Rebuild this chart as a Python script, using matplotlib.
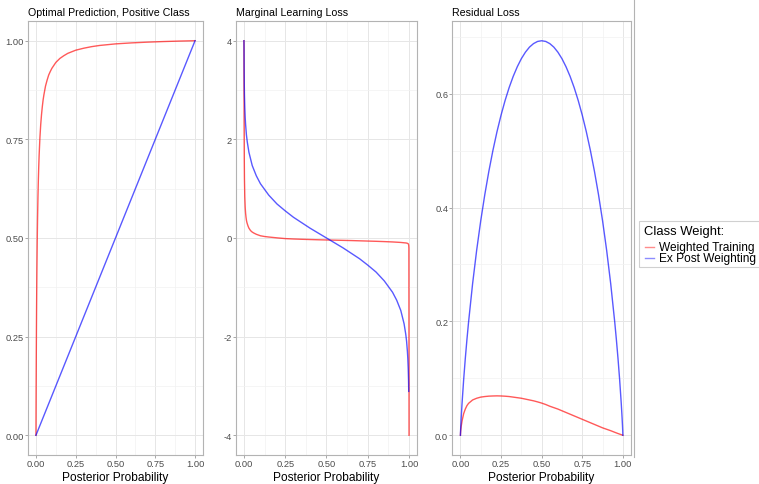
import numpy as np
import matplotlib.pyplot as plt
from matplotlib.lines import Line2D
from matplotlib.patches import Rectangle
from matplotlib.ticker import MultipleLocator

plt.rcParams['font.family'] = ['Liberation Sans', 'DejaVu Sans']

# --- panel 1 : optimal prediction, positive class ---
p_pred = [0, 0.001, 0.002, 0.003, 0.004, 0.005, 0.006, 0.008, 0.01, 0.0125, 0.015, 0.0175,
          0.02, 0.025, 0.03, 0.035, 0.04, 0.045, 0.05, 0.06, 0.07, 0.08, 0.09, 0.1, 0.125,
          0.15, 0.175, 0.2, 0.25, 0.3, 0.35, 0.4, 0.5, 0.6, 0.7, 0.8, 0.9, 1.0]
pred_weighted = [0, 0.107, 0.194, 0.265, 0.325, 0.376, 0.420, 0.492, 0.548, 0.603, 0.646,
                 0.681, 0.710, 0.755, 0.788, 0.813, 0.833, 0.850, 0.863, 0.885, 0.900,
                 0.913, 0.922, 0.930, 0.945, 0.955, 0.962, 0.968, 0.976, 0.981, 0.985,
                 0.988, 0.992, 0.9945, 0.9964, 0.9979, 0.9991, 1.0]
p_pred_expost = [0.0, 1.0]
pred_expost = [0.0, 1.0]

# --- panel 2 : marginal learning loss ---
p_marg = [0, 0.0005, 0.001, 0.002, 0.003, 0.005, 0.0075, 0.01, 0.0125, 0.015, 0.0175, 0.02,
          0.025, 0.03, 0.04, 0.05, 0.06, 0.075, 0.1, 0.125, 0.15, 0.2, 0.25, 0.3, 0.35, 0.4,
          0.45, 0.5, 0.55, 0.6, 0.65, 0.7, 0.75, 0.8, 0.85, 0.9, 0.925, 0.95, 0.97, 0.98,
          0.985, 0.99, 0.9925, 0.995, 0.997, 0.998, 0.999, 1.0]
marg_weighted = [4.0, 3.0, 2.3, 1.6, 1.2, 0.84, 0.62, 0.50, 0.42, 0.36, 0.32, 0.29,
                 0.24, 0.20, 0.15, 0.12, 0.10, 0.075, 0.045, 0.03, 0.02, 0.003, -0.012,
                 -0.02, -0.026, -0.031, -0.036, -0.04, -0.044, -0.048, -0.052, -0.057,
                 -0.062, -0.067, -0.073, -0.08, -0.085, -0.09, -0.097, -0.10, -0.103,
                 -0.108, -0.112, -0.118, -0.13, -0.15, -0.2, -4.0]
p_marg_expost = [0, 0.0005, 0.001, 0.002, 0.003, 0.005, 0.0075, 0.01, 0.015, 0.02, 0.03,
                 0.05, 0.075, 0.1, 0.15, 0.2, 0.25, 0.3, 0.35, 0.4, 0.45, 0.5, 0.55, 0.6,
                 0.65, 0.7, 0.75, 0.8, 0.85, 0.9, 0.925, 0.95, 0.97, 0.98, 0.985, 0.99,
                 0.9925, 0.995, 0.997, 0.998]
marg_expost = [4.0, 3.80, 3.45, 3.11, 2.90, 2.65, 2.44, 2.30, 2.09, 1.95, 1.74, 1.47, 1.26,
               1.10, 0.87, 0.69, 0.55, 0.42, 0.31, 0.20, 0.10, 0.0, -0.10, -0.20, -0.31,
               -0.42, -0.55, -0.69, -0.87, -1.10, -1.26, -1.47, -1.74, -1.95, -2.09,
               -2.30, -2.44, -2.65, -2.90, -3.11]

# --- panel 3 : residual loss ---
p_res = [0, 0.001, 0.0025, 0.005, 0.01, 0.02, 0.03, 0.04, 0.05, 0.075, 0.1, 0.125, 0.15,
         0.175, 0.2, 0.225, 0.25, 0.275, 0.3, 0.325, 0.35, 0.375, 0.4, 0.425, 0.45, 0.475,
         0.5,
         0.525, 0.55, 0.575, 0.6, 0.625, 0.65, 0.675, 0.7, 0.725, 0.75, 0.775, 0.8, 0.825,
         0.85, 0.875, 0.9, 0.925, 0.95, 0.96, 0.97, 0.98, 0.99, 0.995, 0.9975, 0.999, 1.0]
res_weighted = [0, 0.005, 0.010, 0.016, 0.025, 0.038, 0.046, 0.052, 0.056, 0.062, 0.065,
                0.067, 0.068, 0.0687, 0.069, 0.0692, 0.069, 0.0686, 0.068, 0.067, 0.066,
                0.065, 0.0635, 0.062, 0.0605, 0.0586,
                0.0565,
                0.054, 0.051, 0.0485, 0.046, 0.043, 0.040, 0.037, 0.034, 0.031, 0.028,
                0.025, 0.022, 0.019, 0.016, 0.013, 0.0105, 0.008, 0.0052, 0.0041, 0.003,
                0.002, 0.001, 0.0005, 0.00025, 0.0001, 0]
res_expost = [0, 0.0079, 0.0175, 0.0315, 0.056, 0.098, 0.1348, 0.168, 0.1985, 0.2664,
              0.3251, 0.3768, 0.4227, 0.4637, 0.5004, 0.5332, 0.5623, 0.5882, 0.6109,
              0.6306, 0.6474, 0.6616, 0.6730, 0.6819, 0.6881, 0.6919,
              0.6931,
              0.6919, 0.6881, 0.6819, 0.6730, 0.6616, 0.6474, 0.6306, 0.6109, 0.5882,
              0.5623, 0.5332, 0.5004, 0.4637, 0.4227, 0.3768, 0.3251, 0.2664, 0.1985,
              0.168, 0.1348, 0.098, 0.056, 0.0315, 0.0175, 0.0079, 0]

x_ticks = [0, 0.25, 0.5, 0.75, 1.0]
x_labels = ["0.00", "0.25", "0.50", "0.75", "1.00"]
legend_title = "Class Weight:"
series_names = ["Weighted Training", "Ex Post Weighting"]

RED, BLUE, ALPHA, LW = 'red', 'blue', 0.65, 1.0
W, H = 759, 485

fig = plt.figure(figsize=(W / 100, H / 100), dpi=100)


def make_axes(x0, x1, y0, y1):
    return fig.add_axes([x0 / W, 1 - y1 / H, (x1 - x0) / W, (y1 - y0) / H])


def style(ax, title, ylim, yticks, ylabels, yminor):
    ax.set_xlim(-0.05, 1.05)
    ax.set_ylim(*ylim)
    ax.set_xticks(x_ticks)
    ax.set_xticklabels(x_labels)
    ax.set_yticks(yticks)
    ax.set_yticklabels(ylabels)
    ax.xaxis.set_minor_locator(MultipleLocator(0.125))
    ax.yaxis.set_minor_locator(MultipleLocator(yminor))
    ax.grid(which='major', color='#E6E6E6', lw=0.7)
    ax.grid(which='minor', color='#F2F2F2', lw=0.5)
    ax.set_axisbelow(True)
    for s in ax.spines.values():
        s.set_color('#B3B3B3')
        s.set_linewidth(0.8)
    ax.tick_params(which='major', length=2.2, width=0.6, color='#999999',
                   labelsize=6.7, labelcolor='#4D4D4D', pad=0.8)
    ax.tick_params(which='minor', length=0)
    ax.set_title(title, loc='left', fontsize=7.7, pad=4)
    ax.set_xlabel("Posterior Probability", fontsize=8.6, labelpad=2.2)


ax1 = make_axes(28, 203, 22, 456)
ax1.plot(p_pred, pred_weighted, color=RED, alpha=ALPHA, lw=LW)
ax1.plot(p_pred_expost, pred_expost, color=BLUE, alpha=ALPHA, lw=LW)
style(ax1, "Optimal Prediction, Positive Class", (-0.05, 1.05),
      [0, 0.25, 0.5, 0.75, 1.0], ["0.00", "0.25", "0.50", "0.75", "1.00"], 0.125)

ax2 = make_axes(235.7, 417.3, 22, 456)
ax2.plot(p_marg, marg_weighted, color=RED, alpha=ALPHA, lw=LW)
ax2.plot(p_marg_expost, marg_expost, color=BLUE, alpha=ALPHA, lw=LW)
style(ax2, "Marginal Learning Loss", (-4.4, 4.4),
      [-4, -2, 0, 2, 4], ["-4", "-2", "0", "2", "4"], 1)

ax3 = make_axes(452.3, 631, 22, 456)
ax3.plot(p_res, res_weighted, color=RED, alpha=ALPHA, lw=LW)
ax3.plot(p_res, res_expost, color=BLUE, alpha=ALPHA, lw=LW)
style(ax3, "Residual Loss", (-0.0347, 0.7278),
      [0, 0.2, 0.4, 0.6], ["0.0", "0.2", "0.4", "0.6"], 0.1)

# separator line and legend
fig.add_artist(Line2D([634 / W, 634 / W], [1 - 458 / H, 1], transform=fig.transFigure,
                      color='#B3B3B3', lw=0.8))
fig.add_artist(Rectangle((639 / W, 1 - 268.3 / H), (762 - 639) / W, 46.6 / H,
                         transform=fig.transFigure, facecolor='white',
                         edgecolor='#D0D0D0', lw=0.8))
fig.text(643.5 / W, 1 - 232.3 / H, legend_title, fontsize=9.4, va='center', ha='left')
for name, col, y in zip(series_names, [RED, BLUE], [247.7, 259.3]):
    fig.add_artist(Line2D([645 / W, 654 / W], [1 - y / H] * 2, transform=fig.transFigure,
                          color=col, alpha=0.45, lw=LW))
    fig.text(659.3 / W, 1 - y / H, name, fontsize=8.6, va='center', ha='left')

fig.savefig("out.png", dpi=100, facecolor='white')
